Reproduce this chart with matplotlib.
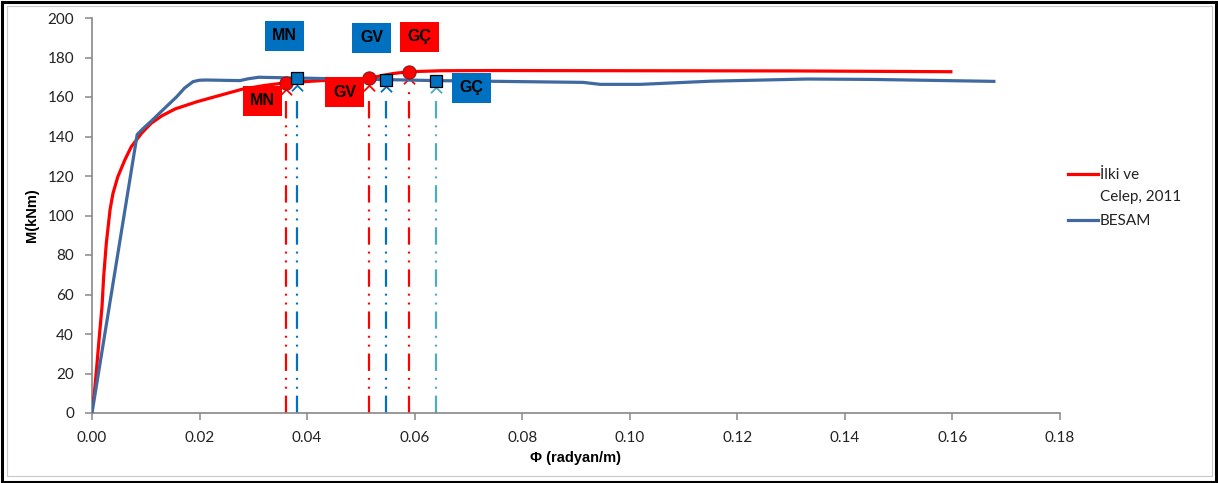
import matplotlib
matplotlib.use("Agg")
import matplotlib.pyplot as plt
from matplotlib.patches import Rectangle
from matplotlib.lines import Line2D
from matplotlib.path import Path
from matplotlib.ticker import FormatStrFormatter, MultipleLocator

plt.rcParams['font.family'] = ['Lato', 'DejaVu Sans']
plt.rcParams['lines.scale_dashes'] = False

# ---- data ----
ilki_phi = [0, 0.0004, 0.0009, 0.0014, 0.00186, 0.00217, 0.00266, 0.00335, 0.0039, 0.0048,
            0.0061, 0.0073, 0.0092, 0.011, 0.013, 0.0155, 0.0195, 0.024, 0.028, 0.032,
            0.036, 0.044, 0.0516, 0.0535, 0.056, 0.059, 0.065, 0.075, 0.10, 0.13, 0.16]
ilki_m = [3, 9, 24, 40, 53.8, 69, 85.9, 102.8, 111.2, 119.6,
          128.1, 134.8, 141.6, 146.7, 150.5, 154, 157.6, 161, 164, 165.8,
          167.2, 168.5, 169.5, 170.6, 171.9, 172.8, 173.3, 173.4, 173.3, 173.2, 172.8]

besam_phi = [0, 0.0084, 0.0095, 0.0111, 0.013, 0.0157, 0.0172, 0.0188, 0.020, 0.0213,
             0.0275, 0.029, 0.031, 0.038, 0.046, 0.0546, 0.064, 0.0913, 0.0945, 0.102,
             0.115, 0.133, 0.145, 0.168]
besam_m = [0, 141, 144, 148, 153, 160, 164.5, 167.8, 168.5, 168.6,
           168.3, 169.2, 170, 169.6, 169.2, 168.8, 168.3, 167.4, 166.4, 166.4,
           168.0, 169.1, 168.9, 167.9]

point_labels = ["MN", "GV", "GÇ"]
ilki_pt_phi = [0.0361, 0.0516, 0.0590]
ilki_pt_m = [167.2, 169.5, 172.7]
besam_pt_phi = [0.0381, 0.0546, 0.0640]
besam_pt_m = [169.5, 168.8, 168.3]

x_ticks = [0, 0.02, 0.04, 0.06, 0.08, 0.10, 0.12, 0.14, 0.16, 0.18]

RED = '#FF0000'
BLUE_LINE = '#4069A0'
BLUE_BOX = '#0070C0'
AQUA = '#4BACC6'

fig = plt.figure(figsize=(12.18, 4.83), dpi=100)
ax = fig.add_axes([92/1218, 1-413/483, (1060-92)/1218, (413-18)/483])

ax.plot(ilki_phi, ilki_m, color=RED, lw=2.3, solid_capstyle='butt',
        solid_joinstyle='round', zorder=3)
ax.plot(besam_phi, besam_m, color=BLUE_LINE, lw=2.3, solid_capstyle='butt',
        solid_joinstyle='round', zorder=3)

chev = Path([(-1, -0.5), (0, 0.5), (1, -0.5)], [Path.MOVETO, Path.LINETO, Path.LINETO])
dash = (0, (12.5, 5, 1.4, 5, 1.4, 5))

v_colors_b = [BLUE_BOX, BLUE_BOX, AQUA]
for i in range(3):
    for px, pm, c in [(ilki_pt_phi[i], ilki_pt_m[i], RED), (besam_pt_phi[i], besam_pt_m[i], v_colors_b[i])]:
        ax.plot([px, px], [0, pm - 8.5], color=c, lw=1.6, linestyle=dash, zorder=2)
        ax.plot([px], [pm - 4.8], marker=chev, markersize=8, markerfacecolor='none',
                markeredgecolor=c, markeredgewidth=1.3, zorder=2, linestyle='none')

ax.plot(ilki_pt_phi, ilki_pt_m, linestyle='none', marker='o', markersize=9.5,
        markerfacecolor=RED, markeredgecolor='#8B1A1A', markeredgewidth=0.8, zorder=5)
ax.plot(besam_pt_phi, besam_pt_m, linestyle='none', marker='s', markersize=9,
        markerfacecolor=BLUE_BOX, markeredgecolor='black', markeredgewidth=0.9, zorder=5)

# label boxes (center x, center y, colour)
hw, hh = 0.00363, 7.6
boxes = [
    (0.0358, 190.9, BLUE_BOX, point_labels[0]),
    (0.0520, 189.9, BLUE_BOX, point_labels[1]),
    (0.0609, 190.6, RED, point_labels[2]),
    (0.0317, 158.0, RED, point_labels[0]),
    (0.0470, 162.5, RED, point_labels[1]),
    (0.0705, 164.8, BLUE_BOX, point_labels[2]),
]
for cx, cy, c, t in boxes:
    ax.add_patch(Rectangle((cx - hw, cy - hh), 2 * hw, 2 * hh, facecolor=c,
                           edgecolor='none', zorder=6, clip_on=False))
    ax.text(cx, cy, t, ha='center', va='center', fontsize=11.5, fontweight='bold',
            family=['Liberation Sans', 'DejaVu Sans'], color='black', zorder=7)

ax.set_xlim(0, 0.18)
ax.set_ylim(0, 200)
ax.set_xticks(x_ticks)
ax.xaxis.set_major_formatter(FormatStrFormatter('%.2f'))
ax.yaxis.set_major_locator(MultipleLocator(20))
for s in ['top', 'right']:
    ax.spines[s].set_visible(False)
for s in ['left', 'bottom']:
    ax.spines[s].set_color('#888888')
    ax.spines[s].set_linewidth(1.2)
ax.tick_params(direction='out', length=5, width=1.1, color='#888888',
               labelsize=11, labelcolor='#222222', pad=8)

ax.set_xlabel('Φ (radyan/m)', fontsize=10.5, fontweight='bold', labelpad=4,
              family=['Liberation Sans', 'DejaVu Sans'])
ax.set_ylabel('M(kNm)', fontsize=10.5, fontweight='bold', labelpad=6,
              family=['Liberation Sans', 'DejaVu Sans'])

# legend (manual)
fig.add_artist(Line2D([1068/1218, 1098/1218], [1-174/483, 1-174/483], color=RED, lw=2.3))
fig.add_artist(Line2D([1068/1218, 1098/1218], [1-220/483, 1-220/483], color=BLUE_LINE, lw=2.3))
fig.text(1100/1218, 1-175/483, 'İlki ve', fontsize=11, va='center', ha='left', color='#222222')
fig.text(1100/1218, 1-197/483, 'Celep, 2011', fontsize=11, va='center', ha='left', color='#222222')
fig.text(1100/1218, 1-221/483, 'BESAM', fontsize=11, va='center', ha='left', color='#222222')

# outer frame
fig.add_artist(Rectangle((1.5/1218, 1.5/483), 1-3.5/1218, 1-3.5/483, transform=fig.transFigure,
                         fill=False, edgecolor='black', lw=2.2))
fig.add_artist(Rectangle((7/1218, 7/483), 1-13/1218, 1-13/483, transform=fig.transFigure,
                         fill=False, edgecolor='#C8C8C8', lw=0.8))

fig.savefig('out.png', dpi=100)
